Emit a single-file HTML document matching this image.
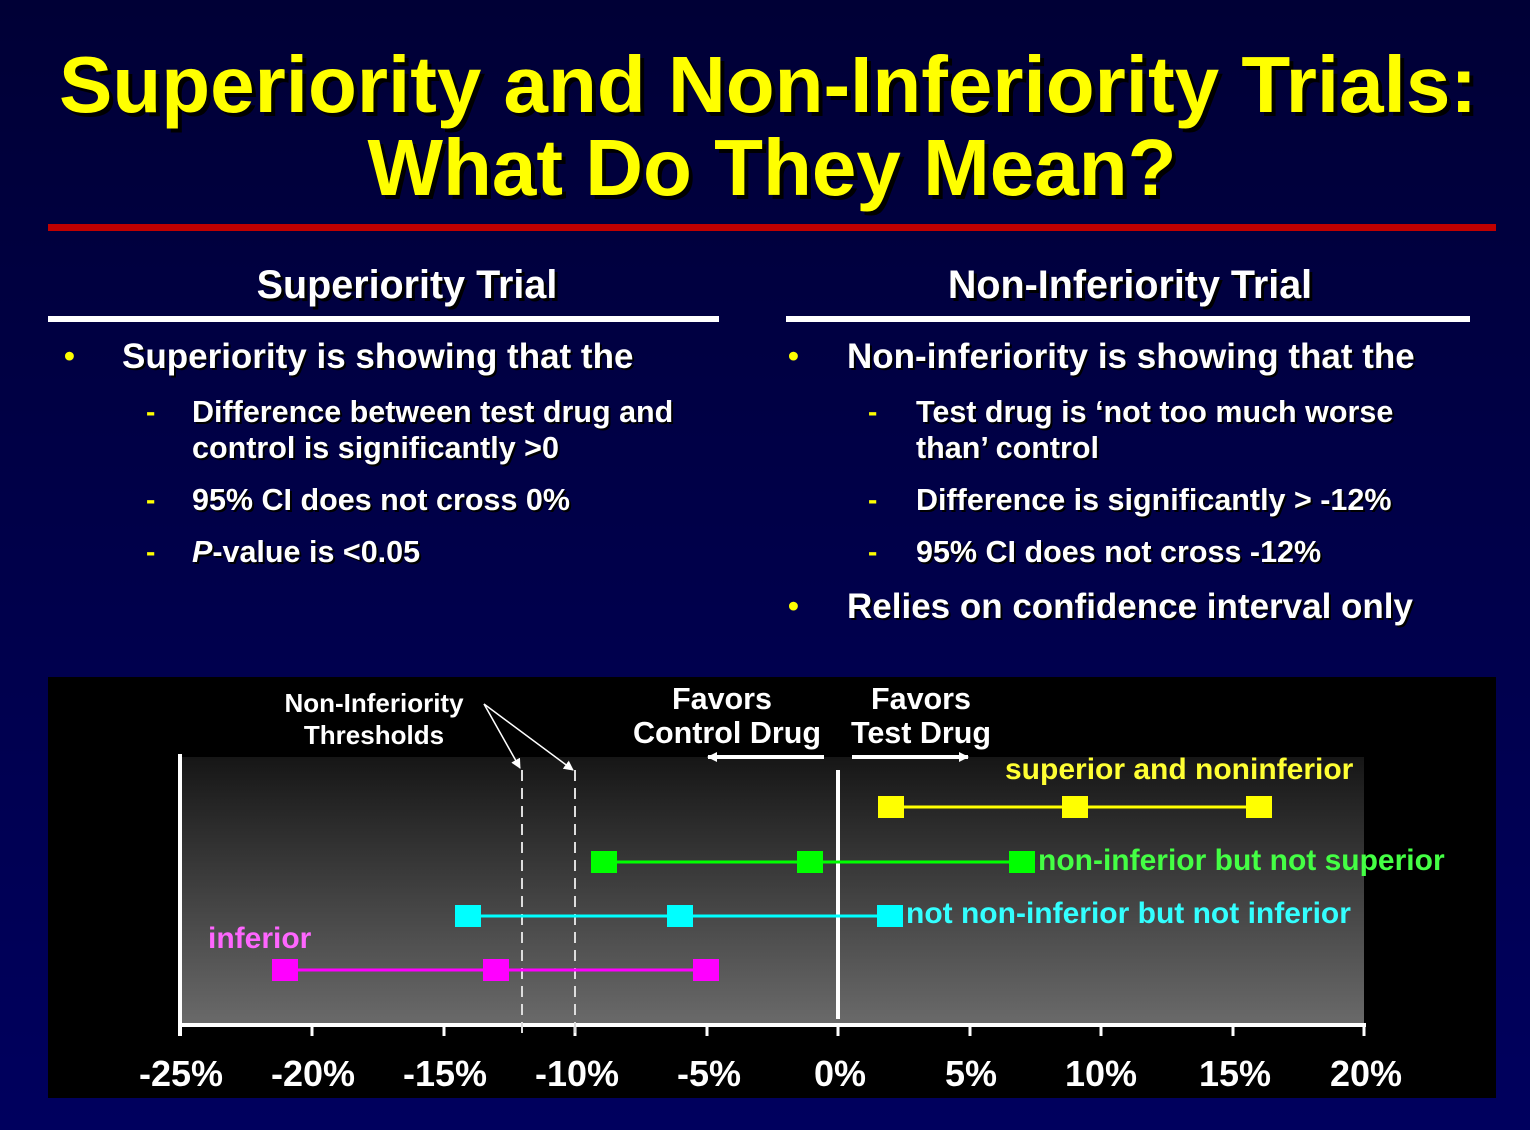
<!DOCTYPE html>
<html><head><meta charset="utf-8"><style>
body{margin:0;width:1530px;height:1130px;overflow:hidden;background:linear-gradient(#000036,#00005e);font-family:"Liberation Sans",sans-serif;font-weight:bold;position:relative}
.a{position:absolute;white-space:nowrap}
</style></head><body>
<svg class="a" style="left:0;top:0" width="1530" height="1130" font-family="Liberation Sans, sans-serif" font-weight="bold">
<defs><linearGradient id="g" x1="0" y1="0" x2="0" y2="1"><stop offset="0" stop-color="#161616"/><stop offset="1" stop-color="#6a6a6a"/></linearGradient>
<marker id="ar" markerWidth="10" markerHeight="10" refX="9" refY="5" orient="auto" markerUnits="userSpaceOnUse"><path d="M0,0 L10,5 L0,10 z" fill="#fff"/></marker></defs>

<g font-size="80" text-anchor="middle">
<g fill="#000" transform="translate(4,4)"><text x="768" y="112">Superiority and Non-Inferiority Trials:</text><text x="772" y="195">What Do They Mean?</text></g>
<g fill="#ffff00"><text x="768" y="112">Superiority and Non-Inferiority Trials:</text><text x="772" y="195">What Do They Mean?</text></g>
</g>
<rect x="48" y="224" width="1448" height="7" fill="#c00000"/>
<g font-size="39.5" text-anchor="middle">
<g fill="#000" transform="translate(3,3)"><text x="407" y="298">Superiority Trial</text><text x="1130" y="298">Non-Inferiority Trial</text></g>
<g fill="#fff"><text x="407" y="298">Superiority Trial</text><text x="1130" y="298">Non-Inferiority Trial</text></g>
</g>
<rect x="48" y="316" width="671" height="6" fill="#fff"/>
<rect x="786" y="316" width="684" height="6" fill="#fff"/>

<g fill="#ffff00" font-size="31"><text x="64" y="366">•</text><text x="788" y="366">•</text><text x="788" y="616">•</text></g>
<g fill="#ffff00" font-size="28"><text x="146" y="421">-</text><text x="146" y="509">-</text><text x="146" y="561">-</text><text x="868" y="421">-</text><text x="868" y="509">-</text><text x="868" y="561">-</text></g>
<g font-size="35">
<g fill="#000" transform="translate(2,2)"><text x="122" y="368">Superiority is showing that the</text><text x="847" y="368">Non-inferiority is showing that the</text><text x="847" y="618">Relies on confidence interval only</text></g>
<g fill="#fff"><text x="122" y="368">Superiority is showing that the</text><text x="847" y="368">Non-inferiority is showing that the</text><text x="847" y="618">Relies on confidence interval only</text></g>
</g>
<g font-size="30.5" id="sub">
<g fill="#000" transform="translate(2,2)">
<text x="192" y="422">Difference between test drug and</text><text x="192" y="458">control is significantly &gt;0</text><text x="192" y="510">95% CI does not cross 0%</text><text x="192" y="562"><tspan font-style="italic">P</tspan>-value is &lt;0.05</text>
<text x="916" y="422">Test drug is ‘not too much worse</text><text x="916" y="458">than’ control</text><text x="916" y="510">Difference is significantly &gt; -12%</text><text x="916" y="562">95% CI does not cross -12%</text>
</g>
<g fill="#fff">
<text x="192" y="422">Difference between test drug and</text><text x="192" y="458">control is significantly &gt;0</text><text x="192" y="510">95% CI does not cross 0%</text><text x="192" y="562"><tspan font-style="italic">P</tspan>-value is &lt;0.05</text>
<text x="916" y="422">Test drug is ‘not too much worse</text><text x="916" y="458">than’ control</text><text x="916" y="510">Difference is significantly &gt; -12%</text><text x="916" y="562">95% CI does not cross -12%</text>
</g>
</g>

<rect x="48" y="677" width="1448" height="421" fill="#000"/>
<rect x="180" y="757" width="1184" height="268" fill="url(#g)"/>
<g stroke="#fff" stroke-width="4">
<line x1="180" y1="754" x2="180" y2="1036"/>
<line x1="178" y1="1025" x2="1366" y2="1025"/>
<line x1="838" y1="770" x2="838" y2="1019"/>
</g>
<g stroke="#fff" stroke-width="3">
<line x1="312" y1="1025" x2="312" y2="1036"/><line x1="444" y1="1025" x2="444" y2="1036"/><line x1="575" y1="1025" x2="575" y2="1036"/><line x1="707" y1="1025" x2="707" y2="1036"/><line x1="838" y1="1025" x2="838" y2="1036"/><line x1="970" y1="1025" x2="970" y2="1036"/><line x1="1101" y1="1025" x2="1101" y2="1036"/><line x1="1233" y1="1025" x2="1233" y2="1036"/><line x1="1364" y1="1025" x2="1364" y2="1036"/>
</g>
<g stroke="#ddd" stroke-width="2" stroke-dasharray="11,7">
<line x1="522" y1="770" x2="522" y2="1034"/><line x1="575" y1="770" x2="575" y2="1034"/>
</g>
<g stroke="#fff" stroke-width="1.5" fill="none">
<line x1="484" y1="704" x2="520" y2="768" marker-end="url(#ar)"/>
<line x1="484" y1="704" x2="573" y2="770" marker-end="url(#ar)"/>
</g>
<g stroke="#fff" stroke-width="4">
<line x1="824" y1="757" x2="708" y2="757" marker-end="url(#ar)"/>
<line x1="852" y1="757" x2="968" y2="757" marker-end="url(#ar)"/>
</g>
<g fill="#fff" text-anchor="middle">
<text x="374" y="712" font-size="26">Non-Inferiority</text><text x="374" y="744" font-size="26">Thresholds</text>
<g font-size="30.5"><text x="722" y="709">Favors</text><text x="727" y="743">Control Drug</text>
<text x="921" y="709">Favors</text><text x="921" y="743">Test Drug</text></g>
</g>
<g fill="#fff" font-size="36" text-anchor="middle">
<text x="181" y="1086">-25%</text><text x="313" y="1086">-20%</text><text x="445" y="1086">-15%</text><text x="577" y="1086">-10%</text><text x="709" y="1086">-5%</text><text x="840" y="1086">0%</text><text x="971" y="1086">5%</text><text x="1101" y="1086">10%</text><text x="1235" y="1086">15%</text><text x="1366" y="1086">20%</text>
</g>
<g stroke-width="3">
<line x1="891" y1="807" x2="1259" y2="807" stroke="#ffff00"/>
<line x1="603" y1="862" x2="1022" y2="862" stroke="#00ff00"/>
<line x1="468" y1="916" x2="890" y2="916" stroke="#00ffff"/>
<line x1="285" y1="970" x2="706" y2="970" stroke="#ff00ff"/>
</g>
<g fill="#ffff00"><rect x="878" y="796" width="26" height="22"/><rect x="1062" y="796" width="26" height="22"/><rect x="1246" y="796" width="26" height="22"/></g>
<g fill="#00ff00"><rect x="591" y="851" width="26" height="22"/><rect x="797" y="851" width="26" height="22"/><rect x="1009" y="851" width="26" height="22"/></g>
<g fill="#00ffff"><rect x="455" y="905" width="26" height="22"/><rect x="667" y="905" width="26" height="22"/><rect x="877" y="905" width="26" height="22"/></g>
<g fill="#ff00ff"><rect x="272" y="959" width="26" height="22"/><rect x="483" y="959" width="26" height="22"/><rect x="693" y="959" width="26" height="22"/></g>
<g font-size="30">
<text x="1005" y="779" fill="#ffff33">superior and noninferior</text>
<text x="1038" y="870" fill="#44ff44">non-inferior but not superior</text>
<text x="906" y="923" fill="#33ffff">not non-inferior but not inferior</text>
<text x="208" y="948" fill="#ff66ff">inferior</text>
</g>
</svg>
</body></html>
